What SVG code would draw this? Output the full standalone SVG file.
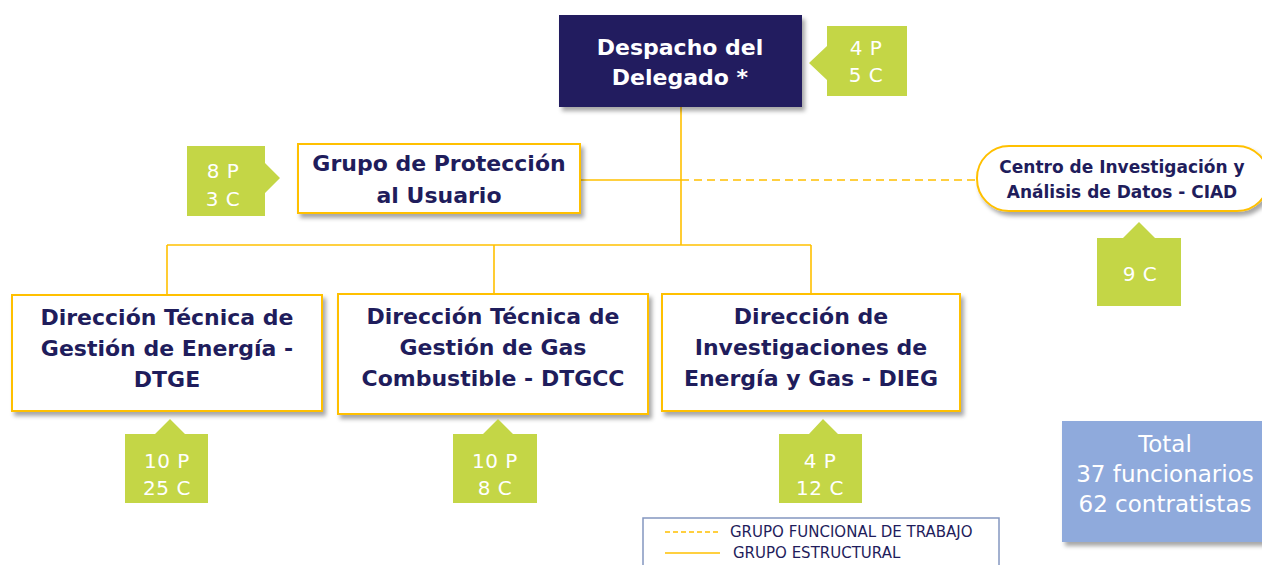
<svg xmlns="http://www.w3.org/2000/svg" width="1262" height="565" viewBox="0 0 1262 565">
<style>
.box{fill:#fff;stroke:#FFC000;stroke-width:2;filter:url(#sh)}
.nt{font-family:"DejaVu Sans",sans-serif;font-weight:bold;font-size:22px;fill:#1F1D5C;text-anchor:middle}
.ct{font-family:"DejaVu Sans",sans-serif;font-size:20px;fill:#fff;text-anchor:middle;letter-spacing:0.5px}
.call{fill:#C4D646}
.ln{stroke:#FFC000;stroke-width:1.6;fill:none}
.dash{stroke:#FFC000;stroke-width:1.4;fill:none;stroke-dasharray:8 5}
.lg{font-family:"DejaVu Sans",sans-serif;font-size:15px;fill:#1F1D5C}
</style>
<defs>
<filter id="sh" x="-10%" y="-10%" width="130%" height="140%">
<feDropShadow dx="3" dy="4" stdDeviation="2" flood-color="#000" flood-opacity="0.35"/>
</filter>
</defs>
<rect width="1262" height="565" fill="#fff"/>
<g id="connectors">
<line class="ln" x1="681" y1="107" x2="681" y2="245"/>
<line class="ln" x1="581" y1="180" x2="681" y2="180"/>
<line class="dash" x1="681" y1="180" x2="977" y2="180"/>
<line class="ln" x1="167" y1="245" x2="811" y2="245"/>
<line class="ln" x1="167" y1="245" x2="167" y2="295"/>
<line class="ln" x1="494" y1="245" x2="494" y2="294"/>
<line class="ln" x1="811" y1="245" x2="811" y2="294"/>
</g>
<g id="despacho">
<rect x="559" y="15" width="243" height="92" fill="#201F5E" filter="url(#sh)"/>
<text class="nt" x="680" y="55" style="fill:#fff">Despacho del</text>
<text class="nt" x="680" y="85" style="fill:#fff">Delegado *</text>
</g>
<g id="callout-despacho">
<path class="call" d="M827 26H907V96H827V80L809 63L827 46Z"/>
<text class="ct" x="866" y="55">4 P</text>
<text class="ct" x="866" y="82">5 C</text>
</g>
<g id="grupo">
<rect class="box" x="298" y="144" width="282" height="69"/>
<text class="nt" x="439" y="171">Grupo de Protección</text>
<text class="nt" x="439" y="203">al Usuario</text>
</g>
<g id="callout-grupo">
<path class="call" d="M187 146H265V163L280 178L265 193V216H187Z"/>
<text class="ct" x="223" y="178">8 P</text>
<text class="ct" x="223" y="206">3 C</text>
</g>
<g id="ciad">
<rect class="box" x="977" y="146" width="292" height="65" rx="32" ry="32"/>
<text class="nt" x="1122" y="173" style="font-size:17px">Centro de Investigación y</text>
<text class="nt" x="1122" y="198" style="font-size:17px">Análisis de Datos - CIAD</text>
</g>
<g id="callout-ciad">
<path class="call" d="M1097 238H1123L1139 222L1155 238H1181V306H1097Z"/>
<text class="ct" x="1140" y="281">9 C</text>
</g>
<g id="dtge">
<rect class="box" x="12" y="295" width="310" height="116"/>
<text class="nt" x="167" y="325">Dirección Técnica de</text>
<text class="nt" x="167" y="356">Gestión de Energía -</text>
<text class="nt" x="167" y="387">DTGE</text>
</g>
<g id="callout-dtge">
<path class="call" d="M125 434H155L170 419L185 434H208V503H125Z"/>
<text class="ct" x="167" y="468">10 P</text>
<text class="ct" x="167" y="495">25 C</text>
</g>
<g id="dtgcc">
<rect class="box" x="338" y="294" width="310" height="120"/>
<text class="nt" x="493" y="324">Dirección Técnica de</text>
<text class="nt" x="493" y="355">Gestión de Gas</text>
<text class="nt" x="493" y="386">Combustible - DTGCC</text>
</g>
<g id="callout-dtgcc">
<path class="call" d="M453 434H483L498 419L513 434H537V503H453Z"/>
<text class="ct" x="495" y="468">10 P</text>
<text class="ct" x="495" y="495">8 C</text>
</g>
<g id="dieg">
<rect class="box" x="662" y="294" width="298" height="117"/>
<text class="nt" x="811" y="324">Dirección de</text>
<text class="nt" x="811" y="355">Investigaciones de</text>
<text class="nt" x="811" y="386">Energía y Gas - DIEG</text>
</g>
<g id="callout-dieg">
<path class="call" d="M779 434H809L823 419L838 434H862V503H779Z"/>
<text class="ct" x="820" y="468">4 P</text>
<text class="ct" x="820" y="495">12 C</text>
</g>
<g id="total">
<rect x="1062" y="421" width="205" height="121" fill="#8FAADC" filter="url(#sh)"/>
<text class="ct" x="1165" y="452" style="font-size:23px;letter-spacing:0">Total</text>
<text class="ct" x="1165" y="482" style="font-size:23px;letter-spacing:0">37 funcionarios</text>
<text class="ct" x="1165" y="512" style="font-size:23px;letter-spacing:0">62 contratistas</text>
</g>
<g id="legend">
<rect x="643" y="518" width="356" height="60" fill="#fff" stroke="#8497C0" stroke-width="1.5"/>
<line class="dash" x1="665" y1="532" x2="720" y2="532" style="stroke-dasharray:5 3"/>
<line class="ln" x1="665" y1="553" x2="720" y2="553"/>
<text class="lg" x="730" y="537">GRUPO FUNCIONAL DE TRABAJO</text>
<text class="lg" x="733" y="558">GRUPO ESTRUCTURAL</text>
</g>
</svg>
